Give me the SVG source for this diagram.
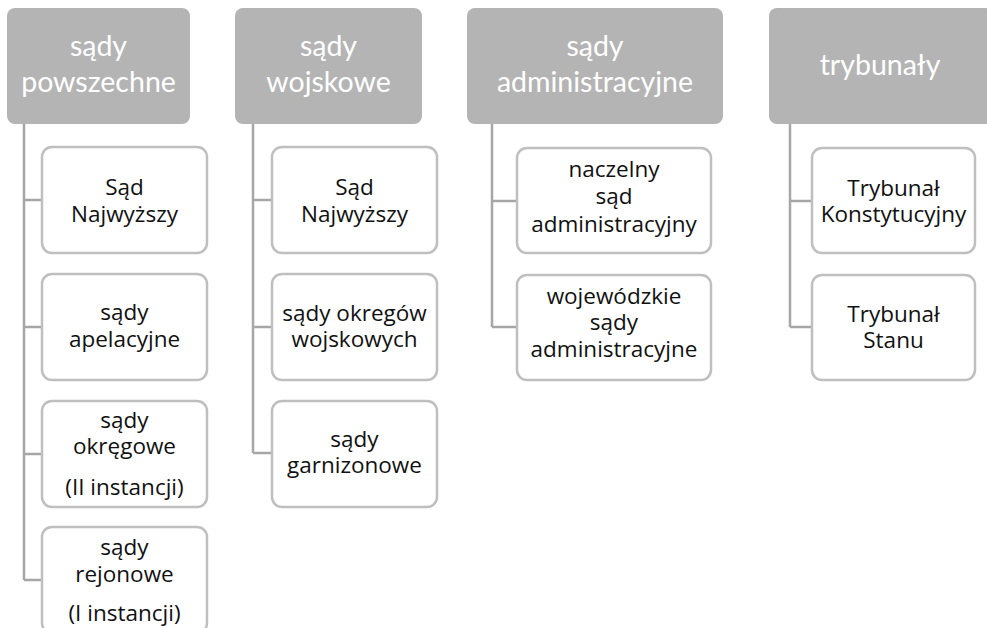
<svg xmlns="http://www.w3.org/2000/svg" width="987" height="628" viewBox="0 0 987 628">
<style>
.hdr{fill:#b4b4b4;}
.box{fill:#ffffff;stroke:#bfbfbf;stroke-width:2.5;}
.con{fill:none;stroke:#a6a6a6;stroke-width:2.5;}
.ht{font-family:Lato,"Open Sans",sans-serif;font-size:28.5px;fill:#ffffff;text-anchor:middle;}
.ct{font-family:"Open Sans",Lato,sans-serif;font-size:22.5px;fill:#111111;text-anchor:middle;}
</style>
<rect width="987" height="628" fill="#ffffff"/>
<g id="connectors">
<path class="con" d="M24,124 V580 M24,200 H42 M24,327 H42 M24,454 H42 M24,580 H42"/>
<path class="con" d="M253,124 V453 M253,200 H272 M253,327 H272 M253,453 H272"/>
<path class="con" d="M492,124 V327 M492,201 H517 M492,327 H517"/>
<path class="con" d="M790,124 V327 M790,201 H812 M790,327 H812"/>
</g>
<g id="h1"><rect class="hdr" x="7" y="8" width="183" height="116" rx="8"/><text class="ht" x="98.5" y="56">sądy</text><text class="ht" x="98.5" y="92">powszechne</text></g>
<g id="h2"><rect class="hdr" x="235" y="8" width="187" height="116" rx="8"/><text class="ht" x="328.5" y="56">sądy</text><text class="ht" x="328.5" y="92">wojskowe</text></g>
<g id="h3"><rect class="hdr" x="467" y="8" width="256" height="116" rx="8"/><text class="ht" x="595" y="56">sądy</text><text class="ht" x="595" y="92">administracyjne</text></g>
<g id="h4"><rect class="hdr" x="769" y="8" width="224" height="116" rx="8"/><text class="ht" x="880" y="75">trybunały</text></g>

<g id="c1a"><rect class="box" x="42" y="147" width="165" height="106" rx="10"/><text class="ct" x="124.5" y="195">Sąd</text><text class="ct" x="124.5" y="222">Najwyższy</text></g>
<g id="c1b"><rect class="box" x="42" y="274" width="165" height="106" rx="10"/><text class="ct" x="124.5" y="320">sądy</text><text class="ct" x="124.5" y="347">apelacyjne</text></g>
<g id="c1c"><rect class="box" x="42" y="401" width="165" height="106" rx="10"/><text class="ct" x="124.5" y="428">sądy</text><text class="ct" x="124.5" y="454">okręgowe</text><text class="ct" x="124.5" y="495">(II instancji)</text></g>
<g id="c1d"><rect class="box" x="42" y="527" width="165" height="106" rx="10"/><text class="ct" x="124.5" y="555">sądy</text><text class="ct" x="124.5" y="582">rejonowe</text><text class="ct" x="124.5" y="621">(I instancji)</text></g>

<g id="c2a"><rect class="box" x="272" y="147" width="165" height="106" rx="10"/><text class="ct" x="354.5" y="195">Sąd</text><text class="ct" x="354.5" y="222">Najwyższy</text></g>
<g id="c2b"><rect class="box" x="272" y="274" width="165" height="106" rx="10"/><text class="ct" x="354.5" y="321">sądy okregów</text><text class="ct" x="354.5" y="347">wojskowych</text></g>
<g id="c2c"><rect class="box" x="272" y="401" width="165" height="106" rx="10"/><text class="ct" x="354.5" y="447">sądy</text><text class="ct" x="354.5" y="473">garnizonowe</text></g>

<g id="c3a"><rect class="box" x="517" y="148" width="194" height="105" rx="10"/><text class="ct" x="614" y="177">naczelny</text><text class="ct" x="614" y="204">sąd</text><text class="ct" x="614" y="232">administracyjny</text></g>
<g id="c3b"><rect class="box" x="517" y="275" width="194" height="105" rx="10"/><text class="ct" x="614" y="304">wojewódzkie</text><text class="ct" x="614" y="330">sądy</text><text class="ct" x="614" y="357">administracyjne</text></g>

<g id="c4a"><rect class="box" x="812" y="148" width="163" height="105" rx="10"/><text class="ct" x="893.5" y="196">Trybunał</text><text class="ct" x="893.5" y="222">Konstytucyjny</text></g>
<g id="c4b"><rect class="box" x="812" y="275" width="163" height="105" rx="10"/><text class="ct" x="893.5" y="322">Trybunał</text><text class="ct" x="893.5" y="348">Stanu</text></g>
</svg>
